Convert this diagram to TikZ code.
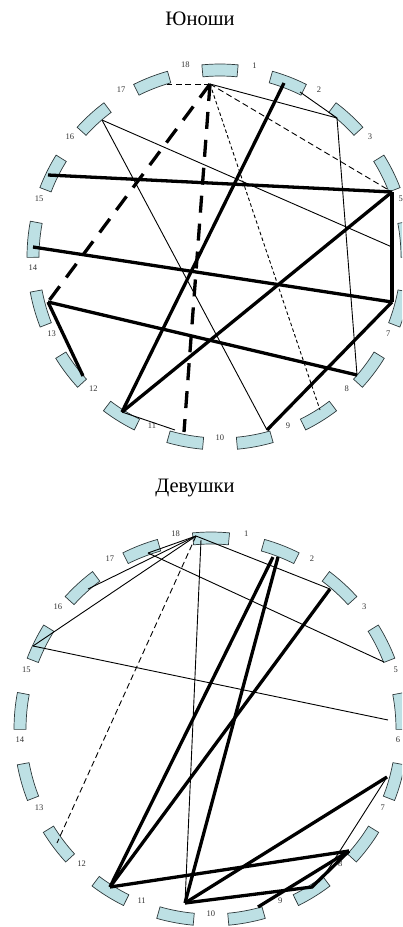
\documentclass[tikz,border=0pt]{standalone}
\usepackage{fontspec}
\setmainfont{Liberation Serif}
\definecolor{boxfill}{HTML}{BDE0E4}
\definecolor{boxline}{HTML}{2E3A3C}

% One ring of 17 curved seats with their numbers (seat 6 is numbered separately).
% #1 name prefix, #2/#3 centre, #4 ring radius
\newcommand\seatring[4]{%
  \foreach \i/\lab in {0/1,1/2,2/3,3/5,4/6,5/7,6/8,7/9,8/10,9/11,10/12,11/13,12/14,13/15,14/16,15/17,16/18} {%
    \pgfmathsetmacro\a{\i*360/17}%
    \pgfmathsetmacro\ri{#4-6}%
    \pgfmathsetmacro\ro{#4+6}%
    \draw[ringbox]
      ({#2+\ri*sin(\a-5.4)},{#3-\ri*cos(\a-5.4)})
        arc[start angle={\a-5.4-90}, end angle={\a+5.4-90}, radius=\ri]
      -- ({#2+\ro*sin(\a+5.4)},{#3-\ro*cos(\a+5.4)})
        arc[start angle={\a+5.4-90}, end angle={\a-5.4-90}, radius=\ro]
      -- cycle;
    \coordinate (#1-\lab) at ({#2+#4*sin(\a)},{#3-#4*cos(\a)});
    \ifnum\lab=6\else
      \node[numlabel] (#1-n\lab) at ({#2+(#4+1)*sin(\a+10.59)},{#3-(#4+1)*cos(\a+10.59)-7}) {\lab};
    \fi
  }%
}

\begin{document}
\begin{tikzpicture}[x=1pt,y=-1pt,
  thickline/.style={line width=3.3pt},
  thinline/.style={line width=0.9pt},
  thickdash/.style={line width=3.3pt, dash pattern=on 17pt off 11pt},
  thindash/.style={line width=0.9pt, dash pattern=on 6pt off 3.5pt},
  finedash/.style={line width=0.9pt, dash pattern=on 3.5pt off 2.5pt},
  ringbox/.style={draw=boxline, fill=boxfill, line width=0.7pt},
  numlabel/.style={font=\fontsize{8.5}{9}\selectfont, text=black!80, inner sep=0pt},
  heading/.style={font=\fontsize{20.5}{24}\selectfont, inner sep=0pt, anchor=base}
]
\useasboundingbox (0,0) rectangle (402,927);
\clip (0,0) rectangle (402,927);

% ---------- boys ----------
\node[heading] (boys) at (200,25) {Юноши};
\seatring{b}{220}{257}{187}

\coordinate (tHub) at (210,84);
\coordinate (tQ) at (167,84);
\coordinate (tC) at (337,118);
\coordinate (tB2) at (300,92);
\coordinate (tB) at (284,83);
\coordinate (tG) at (357,375);
\coordinate (tD) at (392,192);
\coordinate (tH) at (320,410);
\coordinate (tM) at (48,302);
\coordinate (tJ) at (184,432);
\coordinate (tK) at (122,412);
\coordinate (tJ2) at (175,430);
\coordinate (tO) at (48,175);
\coordinate (tF) at (392,302);
\coordinate (tN) at (33,247);
\coordinate (tL) at (83,376);
\coordinate (tI) at (267,430);
\coordinate (tP) at (102,120);
\coordinate (tE) at (392,247);

\draw[thindash] (tHub) -- (tQ);
\draw[thinline] (tHub) -- (tC);
\draw[thinline] (tB2) -- (tC);
\draw[thinline] (tC) -- (tG);
\draw[thindash] (tHub) -- (tD);
\draw[finedash] (tHub) -- (tH);
\draw[thickdash] (tHub) -- (tM);
\draw[thickdash] (tHub) -- (tJ);
\draw[thinline] (tK) -- (tJ2);
\draw[thinline] (tP) -- (tE);
\draw[thinline] (tP) -- (tI);
\draw[thickline] (tB) -- (tK);
\draw[thickline] (tK) -- (tD);
\draw[thickline] (tO) -- (tD);
\draw[thickline] (tD) -- (tF);
\draw[thickline] (tN) -- (tF);
\draw[thickline] (tM) -- (tG);
\draw[thickline] (tM) -- (tL);
\draw[thickline] (tF) -- (tI);

% ---------- girls ----------
\node[heading] (girls) at (195,492) {Девушки};
\seatring{g}{211}{729}{191}
\node[numlabel] (g-n6) at (398,740) {6};

\coordinate (gHub) at (196,536);
\coordinate (gV) at (201,540);
\coordinate (g17) at (148,553);
\coordinate (g16) at (88,589);
\coordinate (g15) at (33,646);
\coordinate (g12) at (57,843);
\coordinate (g10) at (185,903);
\coordinate (g3) at (330,589);
\coordinate (g5) at (384,662);
\coordinate (g6) at (388,720);
\coordinate (g2a) at (273,557);
\coordinate (g2b) at (278,557);
\coordinate (g11) at (110,887);
\coordinate (g8) at (349,851);
\coordinate (g7) at (387,777);
\coordinate (gX) at (312,887);
\coordinate (g9) at (258,907);
\coordinate (g8t) at (322,879);

\draw[thinline] (gHub) -- (g17);
\draw[thinline] (gHub) -- (g16);
\draw[thinline] (gHub) -- (g15);
\draw[thinline] (gHub) -- (g3);
\draw[thindash] (gHub) -- (g12);
\draw[thinline] (gV) -- (g10);
\draw[thinline] (g17) -- (g5);
\draw[thinline] (g15) -- (g6);
\draw[thinline] (g7) -- (g8t);
\draw[thickline] (g2a) -- (g11);
\draw[thickline] (g2b) -- (g10);
\draw[thickline] (g3) -- (g11);
\draw[thickline] (g11) -- (g8);
\draw[thickline] (g10) -- (g7);
\draw[thickline] (g10) -- (gX) -- (g8);
\draw[thickline] (g9) -- (g8);
\end{tikzpicture}
\end{document}
